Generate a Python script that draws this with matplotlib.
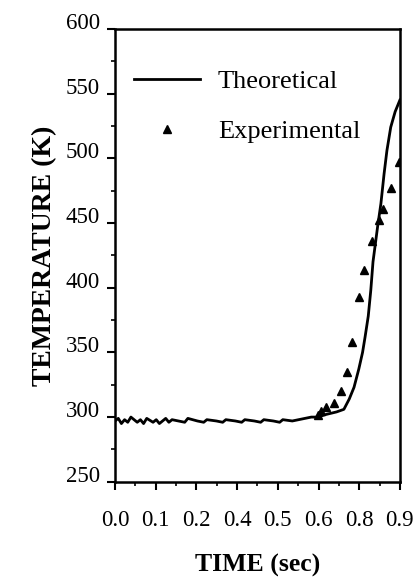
import matplotlib
matplotlib.use('Agg')
import matplotlib.pyplot as plt
from matplotlib.ticker import MultipleLocator, FixedLocator

plt.rcParams['font.family'] = ['Liberation Serif', 'DejaVu Serif']

# theoretical curve
theo_t = [0.00, 0.01, 0.02, 0.03, 0.04, 0.05, 0.07, 0.08, 0.09, 0.10, 0.12, 0.13,
          0.14, 0.16, 0.17, 0.18, 0.20, 0.22, 0.23, 0.26, 0.28, 0.29, 0.32, 0.34,
          0.35, 0.38, 0.40, 0.41, 0.44, 0.46, 0.47, 0.50, 0.52, 0.53, 0.56, 0.58,
          0.60, 0.62, 0.64, 0.666, 0.70, 0.723, 0.74, 0.755, 0.77, 0.782, 0.79,
          0.80, 0.808, 0.815, 0.83, 0.84, 0.85, 0.859, 0.871, 0.885, 0.90]
theo_T = [297, 299, 295, 298, 296, 300, 296, 298, 295, 299, 296, 298,
          295, 299, 296, 298, 297, 296, 299, 297, 296, 298, 297, 296,
          298, 297, 296, 298, 297, 296, 298, 297, 296, 298, 297, 298,
          299, 300, 300, 302, 304, 306, 314, 323, 337, 350, 362,
          378, 398, 420, 448, 465, 488, 506, 524, 536, 545]

# experimental points
exp_t = [0.64, 0.65, 0.668, 0.692, 0.713, 0.734, 0.75, 0.771, 0.787, 0.813,
         0.834, 0.848, 0.872, 0.898]
exp_T = [302, 305, 308, 311, 320, 335, 358, 393, 414, 436, 452, 461, 477, 497]

xtick_pos = [0.0, 0.9 / 7, 1.8 / 7, 2.7 / 7, 3.6 / 7, 4.5 / 7, 5.4 / 7, 0.9]
xtick_lab = ['0.0', '0.1', '0.2', '0.4', '0.5', '0.6', '0.8', '0.9']

fig = plt.figure(figsize=(4.17, 5.77), dpi=100)
ax = fig.add_axes([0.276, 0.165, 0.683, 0.785])

ax.plot(theo_t, theo_T, color='black', lw=2.0, label='Theoretical')
ax.plot(exp_t, exp_T, ls='none', marker='^', ms=6, color='black',
        label='Experimental')

ax.set_xlim(0, 0.9)
ax.set_ylim(250, 600)
ax.xaxis.set_major_locator(FixedLocator(xtick_pos))
ax.set_xticklabels(xtick_lab)
ax.xaxis.set_minor_locator(FixedLocator([p + 0.9 / 14 for p in xtick_pos[:-1]]))
ax.yaxis.set_major_locator(MultipleLocator(50))
ax.yaxis.set_minor_locator(MultipleLocator(25))

ax.tick_params(which='major', direction='out', length=6, width=1.5, labelsize=16.5)
ax.tick_params(which='minor', direction='out', length=3, width=1.2)
ax.tick_params(axis='x', which='major', pad=14)
ax.tick_params(axis='y', which='major', pad=5)
for lab in ax.get_yticklabels():
    lab.set_verticalalignment('baseline')
for sp in ax.spines.values():
    sp.set_linewidth(1.8)

ax.set_xlabel('TIME (sec)', fontsize=18.5, fontweight='bold', labelpad=17)
ax.set_ylabel('TEMPERATURE (K)', fontsize=20, fontweight='bold', labelpad=6)

ax.legend(loc='upper left', bbox_to_anchor=(0.0, 0.95), frameon=False,
          fontsize=19, handlelength=2.5, handletextpad=0.7, labelspacing=1.0,
          numpoints=1, borderaxespad=0.3)

fig.savefig('out.png', dpi=100)
